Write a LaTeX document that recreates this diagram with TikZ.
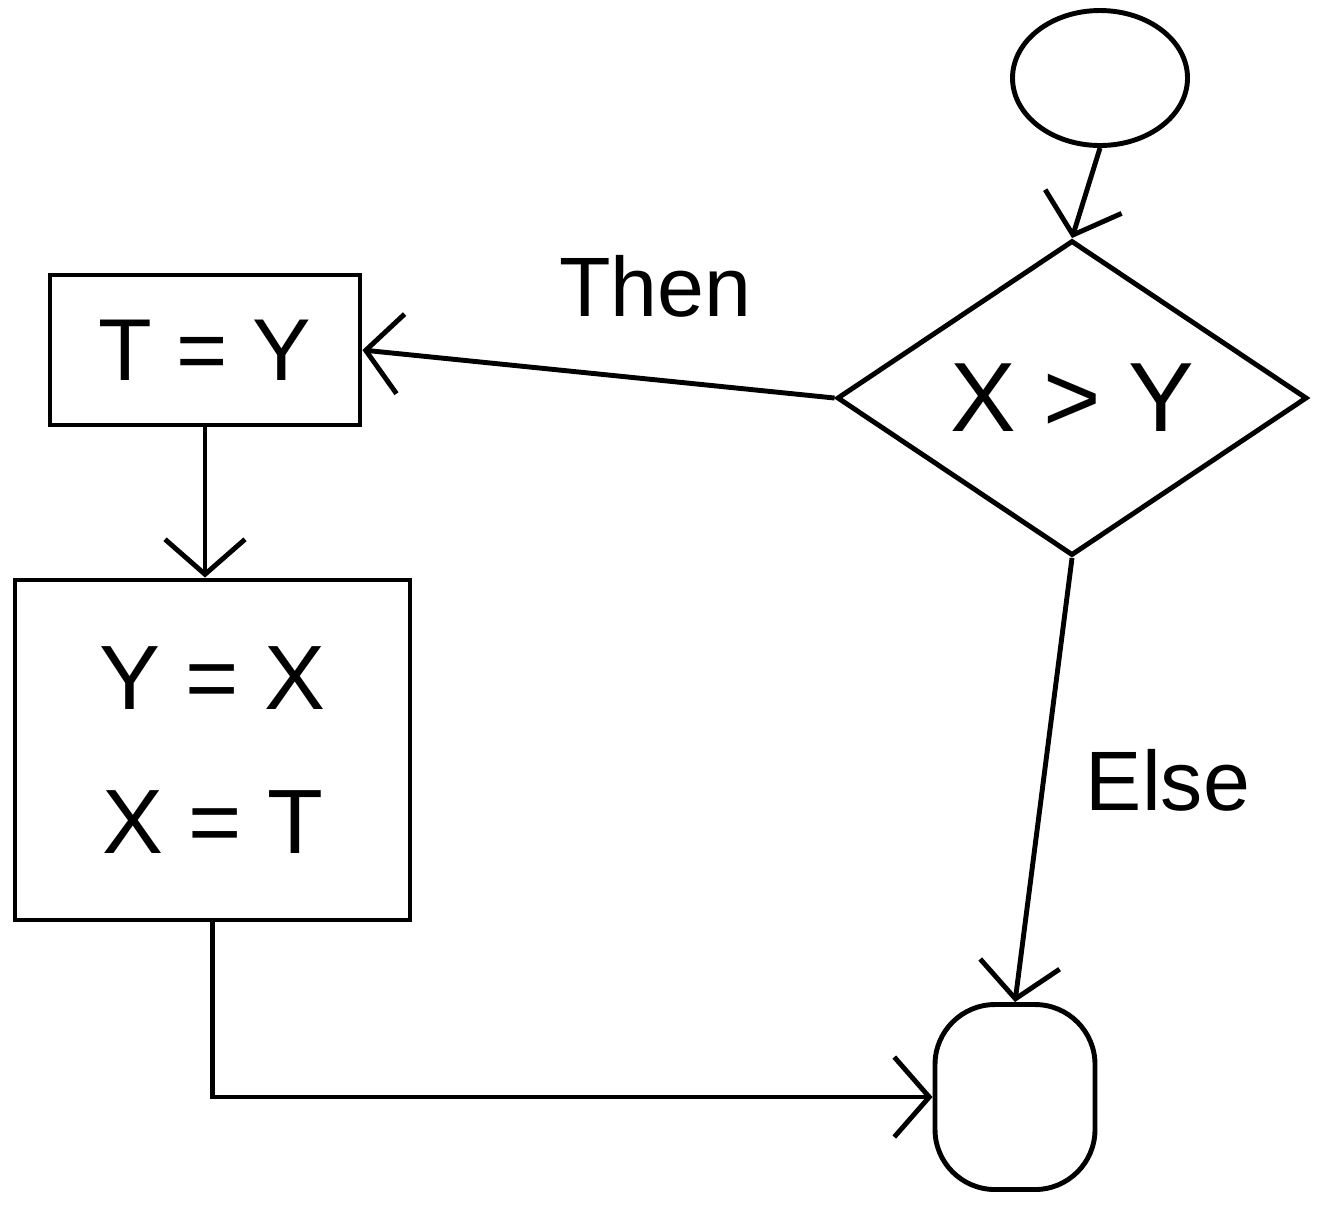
\documentclass[tikz,border=0pt]{standalone}
\usepackage{fontspec}
\setmainfont{Liberation Sans}
\usetikzlibrary{arrows.meta,shapes.geometric}
\begin{document}
\begin{tikzpicture}[
  line width=1.4pt,
  every node/.style={draw, line width=1.4pt, inner sep=0pt},
  flow/.style={-{Straight Barb[length=3.5mm,width=8mm,line width=1.4pt]}},
  txt/.style={font=\fontsize{26}{41}\selectfont},
  lbl/.style={draw=none, font=\fontsize{24}{28}\selectfont}
]
\useasboundingbox[fill=white] (0,0) rectangle (13.2,-12.17);

% start and end terminals
\node[ellipse, minimum width=1.75cm, minimum height=1.35cm] (start) at (11.0,-0.78) {};
\node[rectangle, rounded corners=6mm, minimum width=1.6cm, minimum height=1.85cm] (stop) at (10.15,-10.97) {};

% decision
\node[diamond, minimum width=4.7cm, minimum height=3.15cm, font=\fontsize{28}{34}\selectfont] (cond) at (10.72,-3.98) {X > Y};

% process boxes
\node[rectangle, minimum width=3.1cm, minimum height=1.5cm, font=\fontsize{25}{30}\selectfont] (tmp) at (2.05,-3.5) {T = Y};
\node[rectangle, minimum width=3.95cm, minimum height=3.4cm, txt, align=center] (swap) at (2.125,-7.5) {Y = X\\X = T};

% connectors
\draw[flow] (start.south) -- (cond.north);
\draw[flow] (cond.west) -- (tmp.east)
  node[lbl, pos=0.38, above=6mm] {Then};
\draw[flow] (tmp.south) -- (tmp.south |- swap.north);
\draw[flow] (swap.south) |- (stop.west);
\draw[flow] (cond.south) -- (stop.north)
  node[lbl, pos=0.5, right=4mm] {Else};
\end{tikzpicture}
\end{document}
